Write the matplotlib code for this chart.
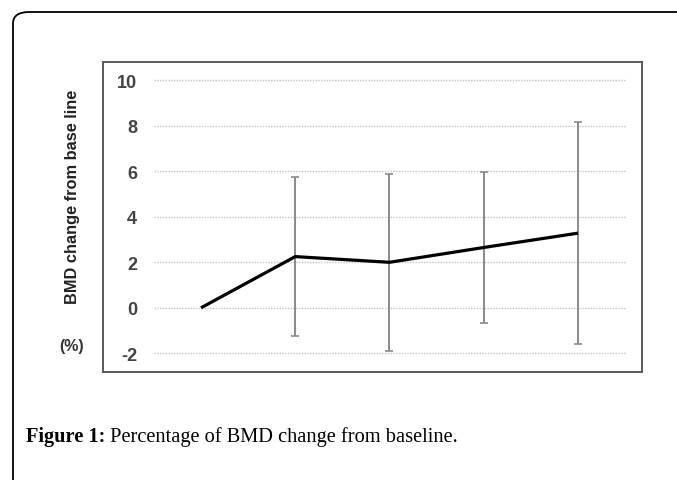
import matplotlib
matplotlib.use("Agg")
import matplotlib.pyplot as plt
from matplotlib.patches import FancyBboxPatch

# Data
timepoints = [1, 2, 3, 4, 5]
bmd_change = [0.0, 2.25, 2.0, 2.65, 3.28]
bmd_err = [None, 3.5, 3.9, 3.33, 4.87]
ytick_values = [-2, 0, 2, 4, 6, 8, 10]
ytick_labels = ["-2", "0", "2", "4", "6", "8", "10"]
ylabel_text = "BMD change from base line"
unit_text = "(%)"
caption_bold = "Figure 1:"
caption_text = " Percentage of BMD change from baseline."

W, H = 677, 481
fig = plt.figure(figsize=(W / 100, H / 100), dpi=100)
fig.patch.set_facecolor("white")

# Outer rounded frame (page box), partially off-canvas
frame = FancyBboxPatch((13 / W, -0.2), 1.2, (481 - 13) / H + 0.2,
                       boxstyle="round,pad=0,rounding_size=0.024",
                       transform=fig.transFigure, fill=False,
                       edgecolor="black", linewidth=1.3, clip_on=False)
fig.patches.append(frame)

# Chart axes (the framed chart image)
left, right, top, bottom = 103, 642, 63, 373
ax = fig.add_axes([left / W, (H - bottom) / H, (right - left) / W, (bottom - top) / H])
ax.set_xlim(-0.04, 5.68)
ax.set_ylim(-2.82, 10.8)
for s in ax.spines.values():
    s.set_color("#5a5a5a")
    s.set_linewidth(1.4)

# gridlines spanning category range
ax.hlines(ytick_values, 0.5, 5.5, colors="#c4c4c4", linestyles=(0, (1, 1)), linewidth=1.0, zorder=1)

# error bars (for points with errors)
ex = [t for t, e in zip(timepoints, bmd_err) if e is not None]
ey = [v for v, e in zip(bmd_change, bmd_err) if e is not None]
ee = [e for e in bmd_err if e is not None]
ax.errorbar(ex, ey, yerr=ee, fmt="none", ecolor="#8a8a8a", elinewidth=1.4,
            capsize=3, capthick=1.2, zorder=2)

ax.plot(timepoints, bmd_change, color="black", linewidth=2.3, zorder=3,
        solid_capstyle="butt", solid_joinstyle="miter")

ax.set_xticks([])
ax.set_yticks(ytick_values)
ax.set_yticklabels(ytick_labels, fontfamily="Liberation Sans", fontweight="bold",
                   fontsize=13, color="#444444")
ax.tick_params(axis="y", length=0, pad=-24.5)

# y label and unit
fig.text(73 / W, 1 - 197 / H, ylabel_text, rotation=90, ha="center", va="center",
         fontfamily="Liberation Sans", fontweight="bold", fontsize=11.8, color="#222222")
fig.text(72 / W, 1 - 346 / H, unit_text, ha="center", va="center",
         fontfamily="Liberation Sans", fontweight="bold", fontsize=11.5, color="#333333")

# caption
t1 = fig.text(26 / W, 1 - 442 / H, caption_bold, ha="left", va="baseline",
              fontfamily="Liberation Serif", fontweight="bold", fontsize=14.7, color="black")
fig.canvas.draw()
bb = t1.get_window_extent()
fig.text(bb.x1 / W, 1 - 442 / H, caption_text, ha="left", va="baseline",
         fontfamily="Liberation Serif", fontsize=14.7, color="black")

fig.savefig("out.png", dpi=100, facecolor="white")
